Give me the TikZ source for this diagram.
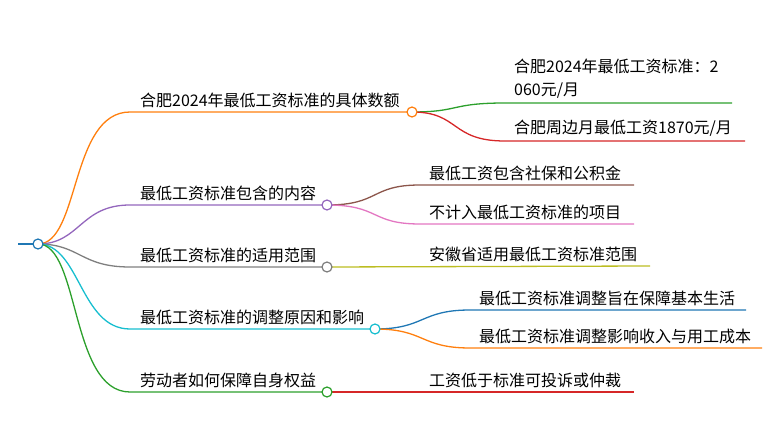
\documentclass[tikz,border=0pt]{standalone}
\usepackage{fontspec}
\newfontfamily\cjk{Noto Sans CJK SC}
\begin{document}
\begin{tikzpicture}
      [x=1pt, y=-1pt, line width=1.3pt,
       lab/.style={anchor=south west, inner sep=1.5pt, font=\cjk\fontsize{16}{23}\selectfont},
       dot/.style={circle, draw, fill=white, line width=1.2pt, minimum size=10pt, inner sep=0pt}]
      \useasboundingbox (0,0) rectangle (780,441);
      \definecolor{corange}{HTML}{FF7F0E}
      \definecolor{cpurple}{HTML}{9467BD}
      \definecolor{cgray}{HTML}{7F7F7F}
      \definecolor{ccyan}{HTML}{17BECF}
      \definecolor{cgreen}{HTML}{2CA02C}
      \definecolor{cred}{HTML}{D62728}
      \definecolor{cbrown}{HTML}{8C564B}
      \definecolor{cpink}{HTML}{E377C2}
      \definecolor{colive}{HTML}{BCBD22}
      \definecolor{cblue}{HTML}{1F77B4}

      \coordinate (root) at (38,244);
      \draw[cblue] (18,244) -- (root);

      % main branches
      \coordinate (s1) at (130,112); \coordinate (b1) at (412,112);
      \coordinate (s2) at (130,205); \coordinate (b2) at (327,205);
      \coordinate (s3) at (130,267); \coordinate (b3) at (327,267);
      \coordinate (s4) at (130,329); \coordinate (b4) at (375,329);
      \coordinate (s5) at (130,392); \coordinate (b5) at (327,392);

      \draw[corange] (root) .. controls (80,244) and (70,112) .. (s1) -- (b1);
      \draw[cpurple] (root) .. controls (80,244) and (80,205) .. (s2) -- (b2);
      \draw[cgray] (root) .. controls (80,244) and (80,267) .. (s3) -- (b3);
      \draw[ccyan] (root) .. controls (80,244) and (80,329) .. (s4) -- (b4);
      \draw[cgreen] (root) .. controls (80,244) and (70,392) .. (s5) -- (b5);

      \node[lab] at (138,110) {合肥2024年最低工资标准的具体数额};
      \node[lab] at (138,203) {最低工资标准包含的内容};
      \node[lab] at (138,265) {最低工资标准的适用范围};
      \node[lab] at (138,327) {最低工资标准的调整原因和影响};
      \node[lab] at (138,390) {劳动者如何保障自身权益};

      % leaves
      \coordinate (e11) at (732,103); \coordinate (e12) at (745,141);
      \coordinate (e21) at (634,185); \coordinate (e22) at (634,224);
      \coordinate (e31) at (650,266);
      \coordinate (e41) at (746,310); \coordinate (e42) at (762,348);
      \coordinate (e51) at (634,392);

      \draw[cgreen] (b1) .. controls (460,112) and (450,103) .. (505,103) -- (e11);
      \draw[cred] (b1) .. controls (460,112) and (450,141) .. (505,141) -- (e12);
      \draw[cbrown] (b2) .. controls (380,205) and (370,185) .. (420,185) -- (e21);
      \draw[cpink] (b2) .. controls (380,205) and (370,224) .. (420,224) -- (e22);
      \draw[colive] (b3) -- (e31);
      \draw[cblue] (b4) .. controls (425,329) and (420,310) .. (470,310) -- (e41);
      \draw[corange] (b4) .. controls (425,329) and (420,348) .. (470,348) -- (e42);
      \draw[cred] (b5) -- (e51);

      \node[lab, align=left, anchor=south west] at (512,101) {合肥2024年最低工资标准：2\\060元/月};
      \node[lab] at (512,139) {合肥周边月最低工资1870元/月};
      \node[lab] at (427,183) {最低工资包含社保和公积金};
      \node[lab] at (427,222) {不计入最低工资标准的项目};
      \node[lab] at (427,264) {安徽省适用最低工资标准范围};
      \node[lab] at (477,308) {最低工资标准调整旨在保障基本生活};
      \node[lab] at (477,346) {最低工资标准调整影响收入与用工成本};
      \node[lab] at (427,390) {工资低于标准可投诉或仲裁};

      \node[dot, draw=cblue] at (root) {};
      \node[dot, draw=corange] at (b1) {};
      \node[dot, draw=cpurple] at (b2) {};
      \node[dot, draw=cgray] at (b3) {};
      \node[dot, draw=ccyan] at (b4) {};
      \node[dot, draw=cgreen] at (b5) {};
    \end{tikzpicture}
\end{document}
